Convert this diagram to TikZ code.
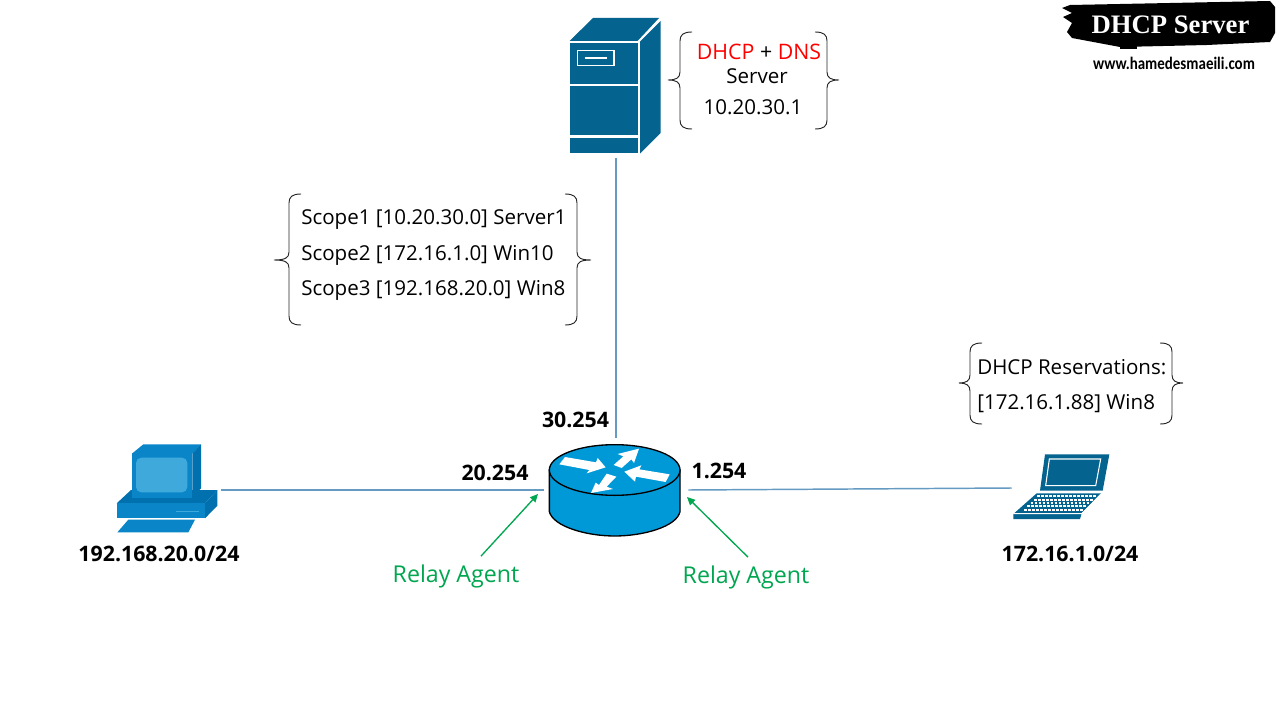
\documentclass[tikz,border=0pt]{standalone}
\usepackage{fontspec}
\setmainfont{Open Sans}
\newfontfamily\logofont{Liberation Serif}
\newfontfamily\urlfont[FakeStretch=0.85]{Carlito}
\usetikzlibrary{arrows.meta,calc}
\definecolor{srvblue}{HTML}{04648F}
\definecolor{rtrblue}{HTML}{0099D8}
\definecolor{linkblue}{HTML}{659AC2}
\definecolor{pcdark}{HTML}{0070AE}
\definecolor{pcmid}{HTML}{0A86C8}
\definecolor{pcscr}{HTML}{3FA9DC}
\definecolor{relaygreen}{HTML}{00A650}
\newcommand{\PX}{0.75pt}
\newcommand{\bracketL}[5]{\draw[bracestyle] (#2+12,#3) .. controls (#2+3,#3) and (#2,#3+3) .. (#2,#3+9) -- (#2,#4-8) .. controls (#2,#4-2) and (#2-4,#4) .. (#1,#4) .. controls (#2-4,#4) and (#2,#4+2) .. (#2,#4+8) -- (#2,#5-9) .. controls (#2,#5-3) and (#2+3,#5) .. (#2+12,#5);}
\newcommand{\bracketR}[5]{\draw[bracestyle] (#2-12,#3) .. controls (#2-3,#3) and (#2,#3+3) .. (#2,#3+9) -- (#2,#4-8) .. controls (#2,#4-2) and (#2+4,#4) .. (#1,#4) .. controls (#2+4,#4) and (#2,#4+2) .. (#2,#4+8) -- (#2,#5-9) .. controls (#2,#5-3) and (#2-3,#5) .. (#2-12,#5);}
\tikzset{
  x=0.75pt,y=-0.75pt,
  bracestyle/.style={draw=black!85,line width=0.7pt},
  link/.style={draw=linkblue,line width=1.1pt},
  relayarrow/.style={draw=relaygreen,line width=1pt,-{Triangle[length=6pt,width=5.5pt]}},
  txt/.style={inner sep=0pt,font=\fontsize{15.4}{18}\selectfont,text=black},
  btxt/.style={inner sep=0pt,font=\fontsize{16}{18}\selectfont\bfseries,text=black},
  rtxt/.style={inner sep=0pt,font=\fontsize{17.4}{20}\selectfont,text=relaygreen},
  iconbox/.style 2 args={inner sep=0pt,minimum width=#1*\PX,minimum height=#2*\PX},
}
\begin{document}
\begin{tikzpicture}
\useasboundingbox (0,0) rectangle (1280,720);
\fill[white] (0,0) rectangle (1280,720);
% icon anchors
\node[iconbox={94}{144}] (srv) at (616,86) {};
\node[iconbox={144}{104}] (rtr) at (616,490) {};
\node[iconbox={122}{100}] (pc) at (160,490) {};
\node[iconbox={108}{90}] (lap) at (1066,488) {};
% links
\draw[link] (srv.south) -- (rtr.north);
\draw[link] (pc.east) -- (rtr.west);
\draw[link] (rtr.east) -- (lap.west);
% server
\begin{scope}[fill=srvblue]
\fill (569.5,41) -- (593,18) -- (659,18) -- (637.5,41) -- cycle;
\fill (640,41.5) -- (660.5,21) -- (660.5,133) -- (640,153.5) -- cycle;
\fill (569.5,43) rectangle (638,84);
\fill (569.5,86) rectangle (638,135.5);
\fill (569.5,138) rectangle (638,153.5);
\draw[white,line width=0.9pt] (577.5,50.5) rectangle (614,65.5);
\draw[white,line width=0.9pt] (584.5,58) -- (607,58);
\end{scope}
% router
\begin{scope}[shift={(530,430)},x=.25pt,y=-.25pt]
\filldraw[fill=rtrblue,draw=black,line width=1pt] (58,120) -- (58,245) .. controls (70,290) and (170,318) .. (254,318) .. controls (340,318) and (440,290) .. (450,245) -- (450,120) -- cycle;
\filldraw[fill=rtrblue,draw=black,line width=1pt] (254,120) ellipse [x radius=196,y radius=76];
\fill[white] (105,81) -- (198,97) -- (203,84) -- (227,112) -- (170,130) -- (178,120) -- (88,103) -- cycle;
\fill[white] (327,56) -- (263,72) -- (280,79) -- (251,105) -- (275,114) -- (304,88) -- (312,99) -- cycle;
\fill[white] (283,125) -- (334,106) -- (328,118) -- (419,133) -- (407,156) -- (318,140) -- (315,155) -- cycle;
\fill[white] (183,189) -- (197,158) -- (207,165) -- (230,131) -- (259,140) -- (230,170) -- (249,177) -- cycle;
\end{scope}
% desktop pc
\begin{scope}[shift={(100,435)},x=.25pt,y=-.25pt]
\fill[pcmid] (52,292) -- (85,254) -- (285,254) -- (265,292) -- cycle;
\fill[pcdark] (50,205) -- (93,165) -- (303,165) -- (352,165) -- (315,205) -- cycle;
\fill[pcmid] (50,205) rectangle (315,250);
\fill[pcdark] (315,205) -- (352,165) -- (352,212) -- (315,250) -- cycle;
\draw[pcscr,line width=0.8pt] (228,230) -- (298,230);
\fill[pcmid] (97,55) -- (130,28) -- (303,28) -- (277,55) -- cycle;
\fill[pcdark] (277,55) -- (303,28) -- (303,160) -- (277,188) -- cycle;
\fill[pcmid] (97,55) rectangle (277,188);
\fill[pcscr,rounded corners=4pt] (108,68) rectangle (262,172);
\end{scope}
% laptop
\begin{scope}[shift={(1000,445)},x=.25pt,y=-.25pt]
\fill[srvblue] (135,28) -- (328,28) -- (308,137) -- (120,137) -- cycle;
\draw[white,line width=0.8pt] (148,42) -- (302,42) -- (287,122) -- (137,122) -- cycle;
\fill[srvblue] (40,207) -- (110,145) -- (303,145) -- (245,205) -- (240,222) -- (40,222) -- cycle;
\draw[white,line width=1.3pt,dash pattern=on 2pt off 1pt] (112,154) -- (290,154);
\draw[white,line width=1.3pt,dash pattern=on 2pt off 1pt] (102,164) -- (280,164);
\draw[white,line width=1.3pt,dash pattern=on 2pt off 1pt] (92,174) -- (270,174);
\draw[white,line width=1.3pt,dash pattern=on 2pt off 1pt] (82,184) -- (260,184);
\draw[white,line width=1.3pt,dash pattern=on 2pt off 1pt] (72,194) -- (250,194);
\draw[white,line width=0.7pt] (40,206) -- (245,206) -- (303,147);
\end{scope}
% braces
\bracketL{668}{680}{32}{80}{129}
\bracketR{839}{827}{32}{80}{129}
\bracketL{274}{289}{194}{260}{325}
\bracketR{591}{577}{194}{260}{325}
\bracketL{959}{970}{343}{383}{424}
\bracketR{1183}{1172}{343}{383}{424}
% server text
\node[txt,font=\fontsize{16}{18}\selectfont] (t1) at (759,52) {\textcolor{red}{DHCP} + \textcolor{red}{DNS}};
\node[txt] (t2) at (757,76) {Server};
\node[txt] (t3) at (753,107) {10.20.30.1};
% scope text
\node[txt,anchor=west] (s1) at (301,220) {Scope1 [10.20.30.0] Server1};
\node[txt,anchor=west] (s2) at (301,255) {Scope2 [172.16.1.0] Win10};
\node[txt,anchor=west] (s3) at (301,290) {Scope3 [192.168.20.0] Win8};
% reservation
\node[txt,anchor=west] (r1) at (977,367.5) {DHCP Reservations:};
\node[txt,anchor=west] (r2) at (977,404) {[172.16.1.88] Win8};
% interface labels
\node[btxt] (i1) at (575.5,420) {30.254};
\node[btxt] (i2) at (495,473) {20.254};
\node[btxt] (i3) at (719,471) {1.254};
\node[btxt] (n1) at (159,554) {192.168.20.0/24};
\node[btxt] (n2) at (1070,554) {172.16.1.0/24};
% relay
\node[rtxt] (ra) at (456,576) {Relay Agent};
\node[rtxt] (rb) at (746,577) {Relay Agent};
\coordinate (tipa) at (538,494);
\coordinate (tipb) at (687,497);
\draw[relayarrow] ($(ra.north)+(25,-8)$) -- (tipa);
\draw[relayarrow] ($(rb.north)+(2,-8)$) -- (tipb);
% banner
\fill[black] (1062,8) -- (1070,5) -- (1270,1) -- (1275,7) -- (1275,33) -- (1270,42) -- (1207,45) -- (1120,47) -- (1072,38) -- (1067,32) -- (1072,23) -- (1063,17) -- (1072,13) -- cycle;
\fill[black] (1120,46) rectangle (1137,49);
\node[inner sep=0pt,text=white,font=\logofont\fontsize{20}{22}\selectfont\bfseries] (logo) at (1170.5,24.5) {DHCP Server};
\node[inner sep=0pt,text=black,font=\urlfont\fontsize{13.2}{15}\selectfont\bfseries] (url) at (1174,63) {www.hamedesmaeili.com};
\end{tikzpicture}
\end{document}
